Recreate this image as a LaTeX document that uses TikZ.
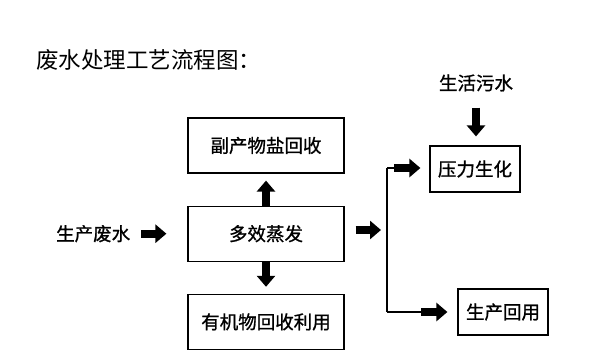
\documentclass[tikz,border=0pt]{standalone}
\usepackage{fontspec}
\newfontfamily\cjk[FakeBold=1]{Noto Sans CJK SC}
\newfontfamily\cjktitle{Noto Sans CJK SC}
\usepackage{tikz}
\usetikzlibrary{arrows.meta, positioning, calc}

\begin{document}
\begin{tikzpicture}[
  x=1pt, y=-1pt,
  every node/.style={font=\cjk\fontsize{18.5pt}{18.5pt}\selectfont, align=center},
  box/.style={draw, line width=1.2pt, minimum height=55pt, minimum width=156pt,
              inner sep=2pt, fill=white},
  sbox/.style={box, minimum height=46pt, minimum width=90pt},
  lbl/.style={inner sep=0pt},
  wire/.style={line width=1.3pt},
  blk/.style={-{Triangle[length=11pt, width=18pt]}, line width=8pt},
]
  \useasboundingbox (0,0) rectangle (600,360);

  \node[lbl, anchor=west, font=\cjktitle\fontsize{22.5pt}{22.5pt}\selectfont]
        (title) at (36,60) {废水处理工艺流程图：};

  % main column
  \node[box]                        (salt)    at (266,145.5) {副产物盐回收};
  \node[box, below=32pt of salt]    (evap)    {多效蒸发};
  \node[box, below=32pt of evap]    (organic) {有机物回收利用};
  \node[lbl, left=57pt of evap]     (feed)    {生产废水};

  \draw[blk, shorten <=11pt, shorten >=21pt] (feed) -- (evap);
  \draw[blk, shorten >=7pt] (evap) -- (salt);
  \draw[blk, shorten >=7pt] (evap) -- (organic);

  % right branch
  \node[sbox] (bio)   at (475,169) {压力生化};
  \node[sbox] (reuse) at (503,312) {生产回用};
  \node[lbl]  (sewage) at (476,83) {生活污水};

  \coordinate (bustop) at (387,168);
  \coordinate (busmid) at (387,230);
  \coordinate (busbot) at (387,312);

  \draw[blk, shorten <=11pt, shorten >=6pt] (evap.east |- busmid) -- (busmid);
  \draw[wire] (bustop) -- (busbot);
  \draw[wire] (bustop) -- ++(8,0);
  \draw[blk, shorten <=7pt, shorten >=9pt] (bustop) -- (bustop -| bio.west);
  \draw[wire] (busbot) -- ++(35,0);
  \draw[blk, shorten <=34pt, shorten >=10pt] (busbot) -- (busbot -| reuse.west);
  \draw[blk, shorten <=16pt, shorten >=9pt] (sewage) -- (sewage |- bio.north);
\end{tikzpicture}
\end{document}
